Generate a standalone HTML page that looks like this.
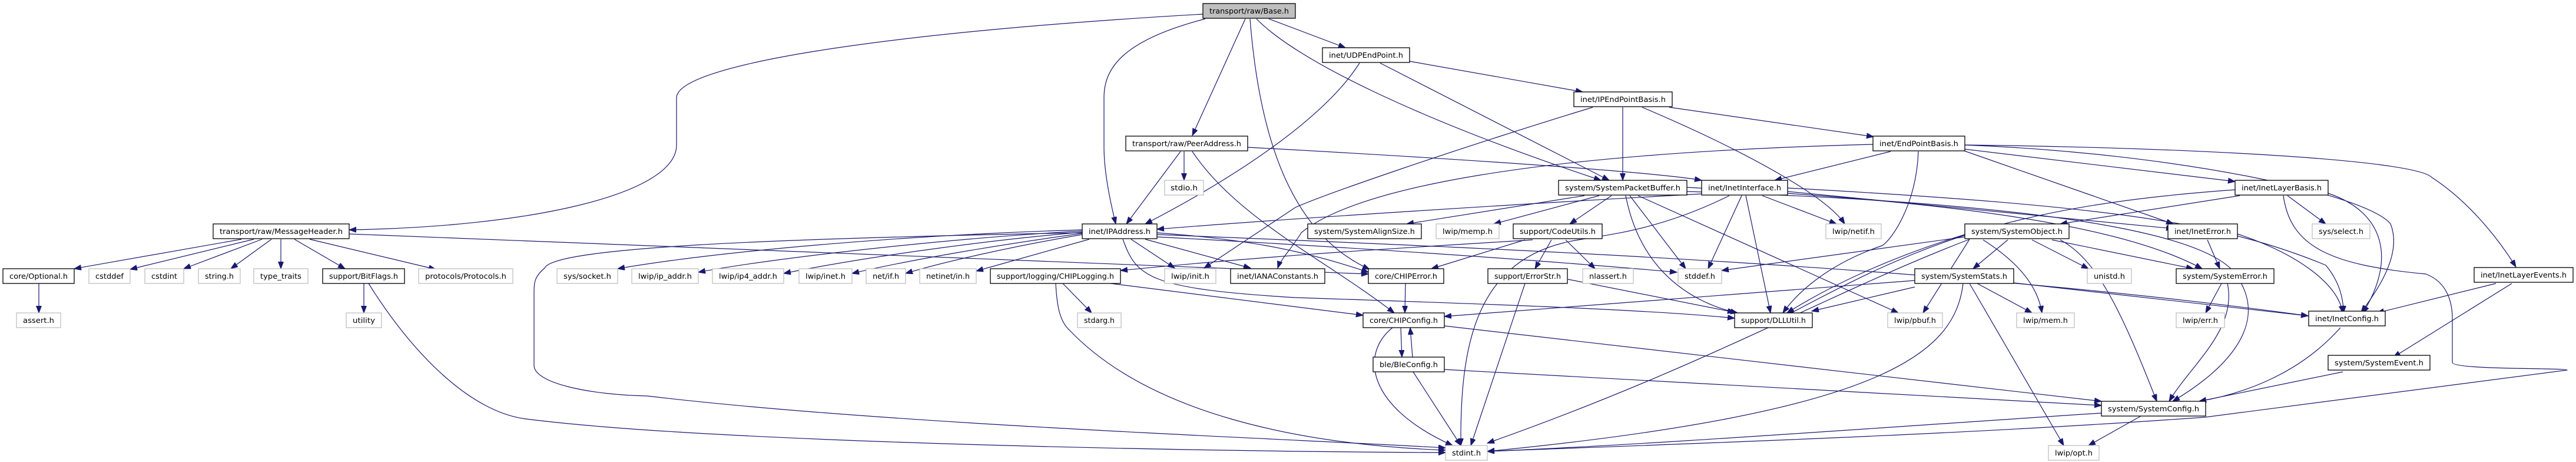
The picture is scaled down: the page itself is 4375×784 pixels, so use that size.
<!DOCTYPE html>
<html><head><meta charset="utf-8"><style>
html,body{margin:0;padding:0;background:#fff;}
svg{display:block;}
text{font-family:"DejaVu Sans","Liberation Sans",sans-serif;font-size:12.5px;fill:#000;}
.n{fill:#fff;stroke:#000;stroke-width:1.3;}
.g{fill:#fff;stroke:#bfbfbf;stroke-width:1.3;}
.e path{fill:none;stroke:#191970;stroke-width:1.2;marker-end:url(#a);}
</style></head><body>
<svg width="4375" height="784" viewBox="0 0 4375 784" xmlns="http://www.w3.org/2000/svg">
<defs><marker id="a" markerUnits="userSpaceOnUse" markerWidth="14" markerHeight="10" refX="12" refY="4.5" orient="auto"><path d="M0,0 L12,4.5 L0,9 Z" fill="#191970" stroke="#191970"/></marker></defs>
<g class="e">
<!-- Base.h -->
<path d="M2043,24 C1500,55 1149,110 1149,166 L1149,246 C1149,330 900,385 593,390"/>
<path d="M2047,32 C1900,70 1875,120 1875,166 L1875,250 C1875,300 1890,360 1895,380"/>
<path d="M2115,32 L2025,230"/>
<path d="M2123,32 C2140,250 2200,400 2326,457"/>
<path d="M2155,32 L2285,81"/>
<path d="M2134,32 C2200,100 2400,200 2719,306"/>
<!-- UDPEndPoint -->
<path d="M2309,107 C2250,200 2100,300 1945,380"/>
<path d="M2394,104 L2688,156"/>
<path d="M2344,107 L2733,306"/>
<!-- PeerAddress -->
<path d="M2011,257 L2011,306"/>
<path d="M2005,257 L1913,380"/>
<path d="M2119,250 C2400,265 2800,290 2890,306"/>
<path d="M2025,257 C2100,370 2250,440 2368,531"/>
<!-- IPEndPointBasis -->
<path d="M2756,182 L2756,306"/>
<path d="M2789,182 C2950,250 3100,330 3133,380"/>
<path d="M2835,182 L3182,232"/>
<path d="M2705,182 C2450,260 2250,330 2200,352 L2045,455"/>
<!-- EndPointBasis -->
<path d="M3181,245 C2600,260 2300,320 2210,395 C2195,420 2175,440 2170,455"/>
<path d="M3211,257 L3014,306"/>
<path d="M3258,257 C3255,350 3210,410 3196,417 C3100,450 3050,500 3028,531"/>
<path d="M3336,253 L3796,308"/>
<path d="M3336,256 L3691,380"/>
<path d="M3336,246 C3700,260 4020,330 4060,380 C4080,430 4040,490 4010,530"/>
<path d="M3336,246 C3700,250 4100,270 4130,301 C4190,340 4240,400 4273,453"/>
<!-- SystemPacketBuffer -->
<path d="M2691,332 L2389,380"/>
<path d="M2716,332 L2537,380"/>
<path d="M2737,332 L2666,380"/>
<path d="M2761,332 C2790,480 2900,520 2951,531"/>
<path d="M2768,332 L2863,456"/>
<path d="M2782,332 L3224,531"/>
<path d="M2865,318 C3300,340 3600,380 3740,456"/>
<path d="M2865,325 C3500,345 3760,400 3800,470 C3860,560 3760,640 3690,681"/>
<!-- InetInterface -->
<path d="M2890,329 C2600,345 2200,370 1965,389"/>
<path d="M2993,332 L3119,380"/>
<path d="M2958,332 L2901,456"/>
<path d="M2965,332 L3007,531"/>
<path d="M2937,332 C2800,400 2700,400 2656,412 C2500,450 2480,600 2481,756"/>
<path d="M3036,319 C3600,350 3780,380 3950,450 C3975,480 3980,510 3980,531"/>
<path d="M3036,325 L3691,388"/>
<!-- IPAddress -->
<path d="M1838,390 C1500,400 1200,430 1049,456"/>
<path d="M1838,392 C1600,405 1300,440 1186,462"/>
<path d="M1838,394 C1650,410 1450,440 1331,464"/>
<path d="M1838,396 C1700,415 1550,440 1447,464"/>
<path d="M1838,398 C1720,418 1600,445 1538,464"/>
<path d="M1850,406 L1658,460"/>
<path d="M1921,406 L1995,455"/>
<path d="M1945,406 L2124,455"/>
<path d="M1838,395 C1300,405 940,420 925,455 C907,470 907,480 907,500 L907,620 C907,650 1000,670 1100,672 C1500,720 2200,745 2455,760"/>
<path d="M1965,402 C2300,420 2600,440 2848,462"/>
<path d="M1907,406 C1930,470 1950,490 2200,505 C2500,515 2800,525 2946,540"/>
<path d="M1965,395 C2100,405 2200,420 2324,462"/>
<path d="M1965,398 C2500,420 3300,450 3920,536"/>
<!-- CodeUtils -->
<path d="M2603,407 C2400,420 2200,430 1903,459"/>
<path d="M2590,407 L2431,456"/>
<path d="M2635,407 L2607,456"/>
<path d="M2659,407 L2709,456"/>
<!-- CHIPLogging -->
<path d="M1805,481 L1854,531"/>
<path d="M1793,481 C1795,520 1800,545 1816,560 C1950,700 2200,754 2455,764"/>
<path d="M1886,481 L2315,535"/>
<!-- MessageHeader -->
<path d="M593,397 L2324,465"/>
<path d="M410,406 L126,456"/>
<path d="M431,406 L221,457"/>
<path d="M445,406 L312,456"/>
<path d="M461,406 L392,456"/>
<path d="M477,406 L477,456"/>
<path d="M500,406 L586,456"/>
<path d="M526,406 L740,457"/>
<path d="M66,481 L66,531"/>
<path d="M618,481 L618,531"/>
<path d="M626,481 C700,600 800,700 894,711 C1200,750 2000,766 2455,768"/>
<!-- CHIPError / ErrorStr / CHIPConfig / BleConfig -->
<path d="M2387,481 L2386,531"/>
<path d="M2590,481 L2498,756"/>
<path d="M2663,474 L2946,530"/>
<path d="M2379,556 L2381,606"/>
<path d="M2399,606 L2395,556"/>
<path d="M2365,556 C2310,600 2320,690 2467,756"/>
<path d="M2453,553 L3569,681"/>
<path d="M2400,631 L2481,756"/>
<path d="M2453,627 L3569,688"/>
<!-- SystemObject -->
<path d="M3410,407 L3351,456"/>
<path d="M3451,407 L3547,456"/>
<path d="M3485,407 L3725,456"/>
<path d="M3499,407 C3560,440 3600,520 3663,681"/>
<path d="M3337,398 C3200,440 3100,490 3035,531"/>
<path d="M3345,406 C3100,500 2900,620 2526,752"/>
<path d="M3368,407 C3420,440 3460,480 3468,531"/>
<path d="M3337,402 L2924,459"/>
<path d="M3345,406 L3266,531"/>
<!-- SystemStats -->
<path d="M3252,476 L2453,537"/>
<path d="M3252,487 L3077,528"/>
<path d="M3358,481 L3451,531"/>
<path d="M3345,481 L3505,756"/>
<path d="M3334,481 C3320,600 3200,700 2526,766"/>
<path d="M3420,480 L3920,536"/>
<!-- InetError / InetLayerBasis -->
<path d="M3749,407 L3770,456"/>
<path d="M3800,397 C3900,430 3970,480 3979,531"/>
<path d="M3804,332 L3499,380"/>
<path d="M3885,332 L3950,380"/>
<path d="M3954,328 C4050,360 4070,440 4013,531"/>
<path d="M3878,332 C3890,420 3960,450 4120,465 C4160,480 4165,520 4165,540 L4165,615 C4165,628 4360,624 4360,628 L3745,708 C3300,740 2800,755 2526,766"/>
<path d="M3796,322 C3400,350 3250,420 3035,535"/>
<!-- SystemError / InetConfig / events / SystemConfig -->
<path d="M3773,481 L3746,531"/>
<path d="M3783,481 C3800,560 3720,620 3684,681"/>
<path d="M3975,556 C3900,640 3800,670 3735,681"/>
<path d="M4239,481 L4037,531"/>
<path d="M4266,481 L4065,606"/>
<path d="M3979,631 L3735,681"/>
<path d="M3636,706 L3547,756"/>
<path d="M3569,701 C3200,725 2800,755 2526,766"/>
</g>
<g>
<rect x="2043" y="6" width="157" height="25" fill="#bfbfbf" stroke="#000" stroke-width="1.3"/><text x="2121.5" y="23" text-anchor="middle" textLength="135" lengthAdjust="spacingAndGlyphs">transport/raw/Base.h</text>
<rect class="n" x="2246" y="81" width="148" height="25"/><text x="2320" y="98" text-anchor="middle" textLength="126" lengthAdjust="spacingAndGlyphs">inet/UDPEndPoint.h</text>
<rect class="n" x="2673" y="156" width="167" height="25"/><text x="2756.5" y="173" text-anchor="middle" textLength="145" lengthAdjust="spacingAndGlyphs">inet/IPEndPointBasis.h</text>
<rect class="n" x="1912" y="231" width="207" height="25"/><text x="2015.5" y="248" text-anchor="middle" textLength="185" lengthAdjust="spacingAndGlyphs">transport/raw/PeerAddress.h</text>
<rect class="n" x="3181" y="231" width="156" height="25"/><text x="3259" y="248" text-anchor="middle" textLength="134" lengthAdjust="spacingAndGlyphs">inet/EndPointBasis.h</text>
<rect class="g" x="1978" y="306" width="66" height="25"/><text x="2011" y="323" text-anchor="middle" textLength="46" lengthAdjust="spacingAndGlyphs">stdio.h</text>
<rect class="n" x="2647" y="306" width="218" height="25"/><text x="2756" y="323" text-anchor="middle" textLength="196" lengthAdjust="spacingAndGlyphs">system/SystemPacketBuffer.h</text>
<rect class="n" x="2890" y="306" width="146" height="25"/><text x="2963" y="323" text-anchor="middle" textLength="124" lengthAdjust="spacingAndGlyphs">inet/InetInterface.h</text>
<rect class="n" x="3796" y="306" width="158" height="25"/><text x="3875" y="323" text-anchor="middle" textLength="136" lengthAdjust="spacingAndGlyphs">inet/InetLayerBasis.h</text>
<rect class="n" x="362" y="380" width="231" height="25"/><text x="477.5" y="397" text-anchor="middle" textLength="209" lengthAdjust="spacingAndGlyphs">transport/raw/MessageHeader.h</text>
<rect class="n" x="1838" y="380" width="127" height="25"/><text x="1901.5" y="397" text-anchor="middle" textLength="105" lengthAdjust="spacingAndGlyphs">inet/IPAddress.h</text>
<rect class="n" x="2221" y="380" width="193" height="25"/><text x="2317.5" y="397" text-anchor="middle" textLength="171" lengthAdjust="spacingAndGlyphs">system/SystemAlignSize.h</text>
<rect class="g" x="2439" y="380" width="107" height="25"/><text x="2492.5" y="397" text-anchor="middle" textLength="85" lengthAdjust="spacingAndGlyphs">lwip/memp.h</text>
<rect class="n" x="2570" y="380" width="151" height="25"/><text x="2645.5" y="397" text-anchor="middle" textLength="129" lengthAdjust="spacingAndGlyphs">support/CodeUtils.h</text>
<rect class="g" x="3101" y="380" width="94" height="25"/><text x="3148" y="397" text-anchor="middle" textLength="72" lengthAdjust="spacingAndGlyphs">lwip/netif.h</text>
<rect class="n" x="3337" y="380" width="177" height="25"/><text x="3425.5" y="397" text-anchor="middle" textLength="155" lengthAdjust="spacingAndGlyphs">system/SystemObject.h</text>
<rect class="n" x="3682" y="380" width="118" height="25"/><text x="3741" y="397" text-anchor="middle" textLength="96" lengthAdjust="spacingAndGlyphs">inet/InetError.h</text>
<rect class="g" x="3927" y="380" width="98" height="25"/><text x="3976" y="397" text-anchor="middle" textLength="76" lengthAdjust="spacingAndGlyphs">sys/select.h</text>
<rect class="n" x="5" y="456" width="121" height="25"/><text x="65.5" y="473" text-anchor="middle" textLength="99" lengthAdjust="spacingAndGlyphs">core/Optional.h</text>
<rect class="g" x="151" y="456" width="70" height="25"/><text x="186" y="473" text-anchor="middle" textLength="48" lengthAdjust="spacingAndGlyphs">cstddef</text>
<rect class="g" x="246" y="456" width="66" height="25"/><text x="279" y="473" text-anchor="middle" textLength="44" lengthAdjust="spacingAndGlyphs">cstdint</text>
<rect class="g" x="337" y="456" width="71" height="25"/><text x="372.5" y="473" text-anchor="middle" textLength="49" lengthAdjust="spacingAndGlyphs">string.h</text>
<rect class="g" x="431" y="456" width="92" height="25"/><text x="477" y="473" text-anchor="middle" textLength="70" lengthAdjust="spacingAndGlyphs">type_traits</text>
<rect class="n" x="548" y="456" width="139" height="25"/><text x="617.5" y="473" text-anchor="middle" textLength="117" lengthAdjust="spacingAndGlyphs">support/BitFlags.h</text>
<rect class="g" x="711" y="456" width="160" height="25"/><text x="791" y="473" text-anchor="middle" textLength="138" lengthAdjust="spacingAndGlyphs">protocols/Protocols.h</text>
<rect class="g" x="946" y="456" width="103" height="25"/><text x="997.5" y="473" text-anchor="middle" textLength="81" lengthAdjust="spacingAndGlyphs">sys/socket.h</text>
<rect class="g" x="1073" y="456" width="113" height="25"/><text x="1129.5" y="473" text-anchor="middle" textLength="91" lengthAdjust="spacingAndGlyphs">lwip/ip_addr.h</text>
<rect class="g" x="1210" y="456" width="121" height="25"/><text x="1270.5" y="473" text-anchor="middle" textLength="99" lengthAdjust="spacingAndGlyphs">lwip/ip4_addr.h</text>
<rect class="g" x="1357" y="456" width="90" height="25"/><text x="1402" y="473" text-anchor="middle" textLength="68" lengthAdjust="spacingAndGlyphs">lwip/inet.h</text>
<rect class="g" x="1471" y="456" width="67" height="25"/><text x="1504.5" y="473" text-anchor="middle" textLength="45" lengthAdjust="spacingAndGlyphs">net/if.h</text>
<rect class="g" x="1562" y="456" width="96" height="25"/><text x="1610" y="473" text-anchor="middle" textLength="74" lengthAdjust="spacingAndGlyphs">netinet/in.h</text>
<rect class="n" x="1682" y="456" width="221" height="25"/><text x="1792.5" y="473" text-anchor="middle" textLength="199" lengthAdjust="spacingAndGlyphs">support/logging/CHIPLogging.h</text>
<rect class="g" x="1978" y="456" width="87" height="25"/><text x="2021.5" y="473" text-anchor="middle" textLength="65" lengthAdjust="spacingAndGlyphs">lwip/init.h</text>
<rect class="n" x="2090" y="456" width="160" height="25"/><text x="2170" y="473" text-anchor="middle" textLength="138" lengthAdjust="spacingAndGlyphs">inet/IANAConstants.h</text>
<rect class="n" x="2324" y="456" width="128" height="25"/><text x="2388" y="473" text-anchor="middle" textLength="106" lengthAdjust="spacingAndGlyphs">core/CHIPError.h</text>
<rect class="n" x="2527" y="456" width="135" height="25"/><text x="2594.5" y="473" text-anchor="middle" textLength="113" lengthAdjust="spacingAndGlyphs">support/ErrorStr.h</text>
<rect class="g" x="2688" y="456" width="86" height="25"/><text x="2731" y="473" text-anchor="middle" textLength="64" lengthAdjust="spacingAndGlyphs">nlassert.h</text>
<rect class="g" x="2850" y="456" width="74" height="25"/><text x="2887" y="473" text-anchor="middle" textLength="52" lengthAdjust="spacingAndGlyphs">stddef.h</text>
<rect class="n" x="3252" y="456" width="168" height="25"/><text x="3336" y="473" text-anchor="middle" textLength="146" lengthAdjust="spacingAndGlyphs">system/SystemStats.h</text>
<rect class="g" x="3545" y="456" width="75" height="25"/><text x="3582.5" y="473" text-anchor="middle" textLength="53" lengthAdjust="spacingAndGlyphs">unistd.h</text>
<rect class="n" x="3696" y="456" width="166" height="25"/><text x="3779" y="473" text-anchor="middle" textLength="144" lengthAdjust="spacingAndGlyphs">system/SystemError.h</text>
<rect class="n" x="4202" y="454" width="168" height="25"/><text x="4286" y="471" text-anchor="middle" textLength="146" lengthAdjust="spacingAndGlyphs">inet/InetLayerEvents.h</text>
<rect class="g" x="28" y="531" width="75" height="25"/><text x="65.5" y="548" text-anchor="middle" textLength="53" lengthAdjust="spacingAndGlyphs">assert.h</text>
<rect class="g" x="588" y="531" width="60" height="25"/><text x="618" y="548" text-anchor="middle" textLength="38" lengthAdjust="spacingAndGlyphs">utility</text>
<rect class="g" x="1830" y="531" width="74" height="25"/><text x="1867" y="548" text-anchor="middle" textLength="52" lengthAdjust="spacingAndGlyphs">stdarg.h</text>
<rect class="n" x="2315" y="531" width="138" height="25"/><text x="2384" y="548" text-anchor="middle" textLength="116" lengthAdjust="spacingAndGlyphs">core/CHIPConfig.h</text>
<rect class="n" x="2946" y="531" width="132" height="25"/><text x="3012" y="548" text-anchor="middle" textLength="110" lengthAdjust="spacingAndGlyphs">support/DLLUtil.h</text>
<rect class="g" x="3206" y="531" width="93" height="25"/><text x="3252.5" y="548" text-anchor="middle" textLength="71" lengthAdjust="spacingAndGlyphs">lwip/pbuf.h</text>
<rect class="g" x="3425" y="531" width="98" height="25"/><text x="3474" y="548" text-anchor="middle" textLength="76" lengthAdjust="spacingAndGlyphs">lwip/mem.h</text>
<rect class="g" x="3696" y="531" width="82" height="25"/><text x="3737" y="548" text-anchor="middle" textLength="60" lengthAdjust="spacingAndGlyphs">lwip/err.h</text>
<rect class="n" x="3921" y="528" width="130" height="25"/><text x="3986" y="545" text-anchor="middle" textLength="108" lengthAdjust="spacingAndGlyphs">inet/InetConfig.h</text>
<rect class="n" x="2332" y="606" width="121" height="25"/><text x="2392.5" y="623" text-anchor="middle" textLength="99" lengthAdjust="spacingAndGlyphs">ble/BleConfig.h</text>
<rect class="n" x="3954" y="603" width="173" height="25"/><text x="4040.5" y="620" text-anchor="middle" textLength="151" lengthAdjust="spacingAndGlyphs">system/SystemEvent.h</text>
<rect class="n" x="3569" y="681" width="177" height="25"/><text x="3657.5" y="698" text-anchor="middle" textLength="155" lengthAdjust="spacingAndGlyphs">system/SystemConfig.h</text>
<rect class="g" x="2455" y="756" width="71" height="25"/><text x="2490.5" y="773" text-anchor="middle" textLength="49" lengthAdjust="spacingAndGlyphs">stdint.h</text>
<rect class="g" x="3479" y="756" width="86" height="25"/><text x="3522" y="773" text-anchor="middle" textLength="64" lengthAdjust="spacingAndGlyphs">lwip/opt.h</text>
</g>
</svg>
</body></html>
